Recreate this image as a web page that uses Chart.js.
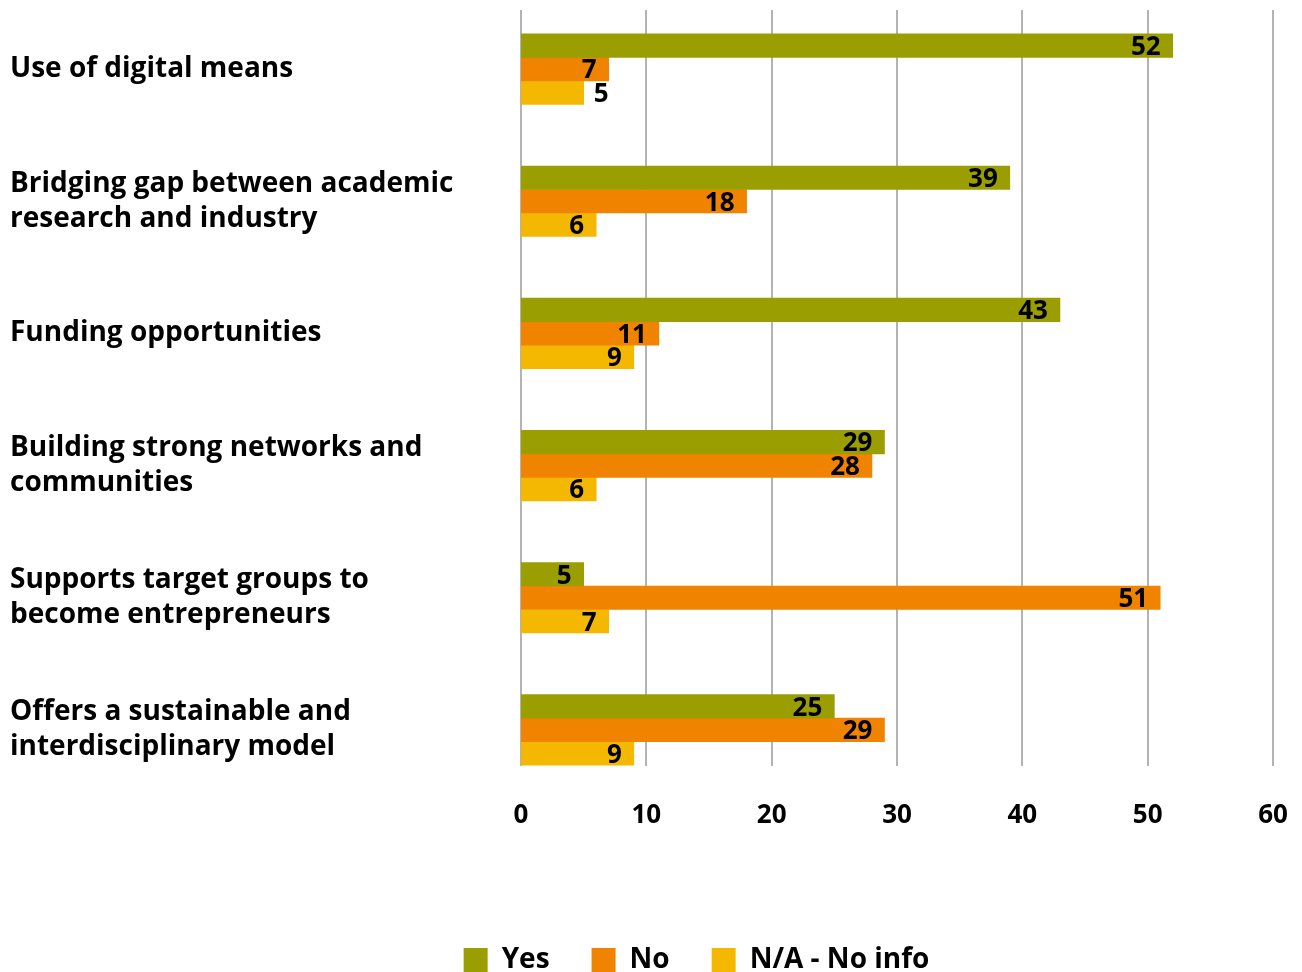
<!DOCTYPE html>
<html>
<head>
<meta charset="utf-8">
<script src="https://cdn.jsdelivr.net/npm/chart.js@4.4.1/dist/chart.umd.min.js"></script>
<style>
  html, body { margin: 0; padding: 0; background: #fff; overflow: hidden; }
</style>
</head>
<body>
<canvas id="chart" width="1302" height="972"></canvas>
<script>
// ── Data ────────────────────────────────────────────────────
const categories = [
  ['Use of digital means'],
  ['Bridging gap between academic', 'research and industry'],
  ['Funding opportunities'],
  ['Building strong networks and', 'communities'],
  ['Supports target groups to', 'become entrepreneurs'],
  ['Offers a sustainable and', 'interdisciplinary model'],
];
const seriesNames = ['Yes', 'No', 'N/A - No info'];
const yesValues   = [52, 39, 43, 29, 5, 25];
const noValues    = [7, 18, 11, 28, 51, 29];
const naValues    = [5, 6, 9, 6, 7, 9];
const xTicks      = [0, 10, 20, 30, 40, 50, 60];

const colors = ['#9a9e00', '#f08300', '#f5b800'];
const FONT = '"Open Sans", "DejaVu Sans", sans-serif';

// ── Gridlines (drawn under the bars, shorter than the plot) ──
const gridLines = {
  id: 'gridLines',
  beforeDatasetsDraw(chart) {
    const { ctx, scales: { x } } = chart;
    ctx.save();
    ctx.strokeStyle = '#b3b3b3';
    ctx.lineWidth = 2;
    xTicks.forEach(v => {
      const px = Math.round(x.getPixelForValue(v));
      ctx.beginPath();
      ctx.moveTo(px, 10);
      ctx.lineTo(px, 766);
      ctx.stroke();
    });
    ctx.restore();
  }
};

// ── Value labels at bar ends ────────────────────────────────
// label for dataset 2 / index 0 sits outside its bar in the original
const labelsOutside = { 2: [0] };
const valueLabels = {
  id: 'valueLabels',
  afterDatasetsDraw(chart) {
    const ctx = chart.ctx;
    ctx.save();
    ctx.font = 'bold 26px ' + FONT;
    ctx.fillStyle = '#000';
    ctx.textBaseline = 'middle';
    chart.data.datasets.forEach((ds, di) => {
      chart.getDatasetMeta(di).data.forEach((bar, i) => {
        const txt = String(ds.data[i]);
        const out = (labelsOutside[di] || []).includes(i);
        ctx.textAlign = out ? 'left' : 'right';
        ctx.fillText(txt, out ? bar.x + 10 : bar.x - 12, bar.y + 2);
      });
    });
    ctx.restore();
  }
};

// legend in the original sits a bit right of centre
const legendShift = {
  id: 'legendShift',
  afterLayout(chart) {
    chart.legend.left += 55;
    chart.legend.right += 55;
  }
};

new Chart(document.getElementById('chart'), {
  type: 'bar',
  data: {
    labels: categories,
    datasets: [
      { label: seriesNames[0], data: yesValues, backgroundColor: colors[0] },
      { label: seriesNames[1], data: noValues,  backgroundColor: colors[1] },
      { label: seriesNames[2], data: naValues,  backgroundColor: colors[2] },
    ]
  },
  options: {
    indexAxis: 'y',
    responsive: false,
    animation: false,
    datasets: { bar: { barThickness: 23.5, borderWidth: 0 } },
    layout: { autoPadding: false, padding: { left: 10, right: 29, top: 3, bottom: -12 } },
    plugins: {
      tooltip: { enabled: false },
      legend: {
        position: 'bottom',
        labels: {
          boxWidth: 24,
          boxHeight: 24,
          padding: 42,
          color: '#000',
          font: { family: FONT, size: 28, weight: 'bold' }
        }
      }
    },
    scales: {
      x: {
        min: 0,
        max: 60,
        grid: { display: false },
        border: { display: false },
        ticks: {
          stepSize: 10,
          padding: -4,
          color: '#000',
          font: { family: FONT, size: 26, weight: 'bold' }
        },
        afterFit(scale) { scale.height = 108; }
      },
      y: {
        grid: { display: false },
        border: { display: false },
        ticks: {
          crossAlign: 'far',
          color: '#000',
          font: { family: FONT, size: 28, weight: 'bold', lineHeight: 1.25 }
        },
        afterFit(scale) {
          scale.width = 511;
          scale.paddingTop = 0;
          scale.paddingBottom = 0;
        }
      }
    }
  },
  plugins: [gridLines, valueLabels, legendShift]
});
</script>
</body>
</html>
